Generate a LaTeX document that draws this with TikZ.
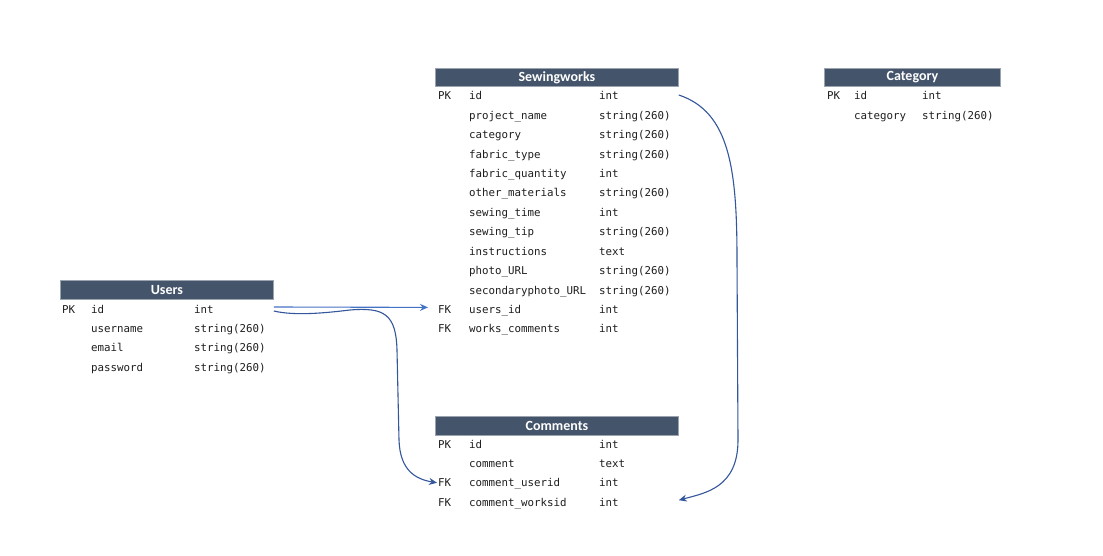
\documentclass[tikz,border=0pt]{standalone}
\usepackage{fontspec}
\setmainfont{Carlito}
\setmonofont{DejaVu Sans Mono}
\usetikzlibrary{arrows.meta}
\definecolor{hdr}{HTML}{44546A}
\definecolor{hdrline}{HTML}{9AA3AE}
\definecolor{txt}{HTML}{1E1E1E}
\definecolor{lblue}{HTML}{4472C4}
\definecolor{dblue}{HTML}{34579C}
\tikzset{
 hdrbox/.style={fill=hdr, draw=hdrline, line width=0.8pt, text=white, font=\bfseries\fontsize{14}{14}\selectfont, inner sep=0pt, anchor=north west},
 cell/.style={anchor=base west, inner sep=0pt, text=txt, font=\ttfamily\fontsize{10.8}{11}\selectfont},
 conn/.style={line width=1.1pt, -{Stealth[length=8pt,width=7pt]}}
}
\begin{document}
\begin{tikzpicture}[x=1pt,y=-1pt]
\useasboundingbox (0,0) rectangle (1103,556);
\fill[white] (0,0) rectangle (1103,556);
% Sewingworks
\node[hdrbox, minimum width=243pt, minimum height=18pt] (sw) at (435,68) {Sewingworks};
\foreach \k/\n/\t [count=\i from 0] in {PK/id/int, /project\_name/string(260), /category/string(260), /fabric\_type/string(260), /fabric\_quantity/int, /other\_materials/string(260), /sewing\_time/int, /sewing\_tip/string(260), /instructions/text, /photo\_URL/string(260), /secondaryphoto\_URL/string(260), FK/users\_id/int, FK/works\_comments/int}{
  \node[cell] (sw-k\i) at (438,{100+19.4*\i}) {\k};
  \node[cell] (sw-n\i) at (469,{100+19.4*\i}) {\n};
  \node[cell] (sw-t\i) at (599,{100+19.4*\i}) {\t};
}
% Category
\node[hdrbox, minimum width=176pt, minimum height=18pt] (ca) at (824,68) {Category};
\foreach \k/\n/\t [count=\i from 0] in {PK/id/int, /category/string(260)}{
  \node[cell] (ca-k\i) at (827,{100+19.4*\i}) {\k};
  \node[cell] (ca-n\i) at (854,{100+19.4*\i}) {\n};
  \node[cell] (ca-t\i) at (922,{100+19.4*\i}) {\t};
}
% Users
\node[hdrbox, minimum width=213pt, minimum height=19pt] (us) at (60,280) {Users};
\foreach \k/\n/\t [count=\i from 0] in {PK/id/int, /username/string(260), /email/string(260), /password/string(260)}{
  \node[cell] (us-k\i) at (62,{313+19.4*\i}) {\k};
  \node[cell] (us-n\i) at (91,{313+19.4*\i}) {\n};
  \node[cell] (us-t\i) at (194,{313+19.4*\i}) {\t};
}
% Comments
\node[hdrbox, minimum width=243pt, minimum height=19pt] (cm) at (435,416) {Comments};
\foreach \k/\n/\t [count=\i from 0] in {PK/id/int, /comment/text, FK/comment\_userid/int, FK/comment\_worksid/int}{
  \node[cell] (cm-k\i) at (438,{448+19.4*\i}) {\k};
  \node[cell] (cm-n\i) at (469,{448+19.4*\i}) {\n};
  \node[cell] (cm-t\i) at (599,{448+19.4*\i}) {\t};
}
% connectors
\draw[conn, lblue] ([yshift=6pt]us.east |- us-k0.base) -- ([xshift=-10pt,yshift=6pt]sw-k11.base west);
\draw[conn, dblue] ([yshift=2pt]us.east |- us-k0.base) .. controls (295,316) and (325,313) .. (350,310)
  .. controls (385,307) and (396,315) .. (397,350) -- (399,440)
  .. controls (400,470) and (415,479) .. ([xshift=-1pt,yshift=4pt]cm-k2.base west);
\draw[conn, dblue] ([yshift=5pt]sw.east |- sw-k0.base) .. controls (730,112) and (737,170) .. (737,260)
  -- (738,440) .. controls (738,488) and (705,493) .. ([yshift=6pt]cm.east |- cm-k3.base);
\end{tikzpicture}
\end{document}
